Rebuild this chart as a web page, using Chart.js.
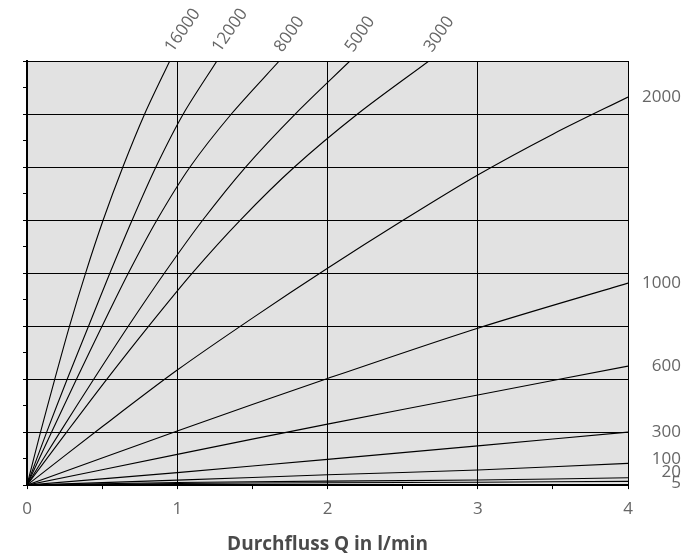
<!DOCTYPE html>
<html>
<head>
<meta charset="utf-8">
<script src="https://cdn.jsdelivr.net/npm/chart.js@4"></script>
<style>
  body { margin: 0; background: #fff; }
  #wrap { width: 696px; height: 555px; position: relative; }
</style>
</head>
<body>
<div id="wrap"><canvas id="flowChart"></canvas></div>
<script>
// Kennlinien: [Q, Wert] je Viskosität
const viscosities = [16000, 12000, 8000, 5000, 3000, 2000, 1000, 600, 300, 100, 20, 5];

const curve16000 = [[0,0],[0.09,1],[0.185,2],[0.283,3],[0.39,4],[0.507,5],[0.638,6],[0.783,7],[0.95,8]];
const curve12000 = [[0,0],[0.131,1],[0.268,2],[0.41,3],[0.552,4],[0.7,5],[0.858,6],[1.04,7],[1.264,8]];
const curve8000  = [[0,0],[0.164,1],[0.33,2],[0.5,3],[0.675,4],[0.865,5],[1.085,6],[1.36,7],[1.679,8]];
const curve5000  = [[0,0],[0.22,1],[0.445,2],[0.675,3],[0.915,4],[1.17,5],[1.455,6],[1.785,7],[2.149,8]];
const curve3000  = [[0,0],[0.264,1],[0.532,2],[0.81,3],[1.1,4],[1.42,5],[1.78,6],[2.2,7],[2.675,8]];
const curve2000  = [[0,0],[0.5,1.1],[1,2.17],[1.5,3.15],[2,4.09],[2.5,4.99],[3,5.85],[3.5,6.62],[4,7.32]];
const curve1000  = [[0,0],[1,1.02],[2,2.01],[3,2.96],[4,3.81]];
const curve600   = [[0,0],[1,0.58],[2,1.15],[3,1.70],[4,2.245]];
const curve300   = [[0,0],[1,0.235],[2,0.485],[3,0.74],[4,1.0]];
const curve100   = [[0,0],[1,0.094],[2,0.195],[3,0.285],[4,0.41]];
const curve20    = [[0,0],[1,0.05],[2,0.075],[3,0.095],[4,0.14]];
const curve5     = [[0,0],[1,0.03],[2,0.045],[3,0.055],[4,0.07]];

const curves = [curve16000, curve12000, curve8000, curve5000, curve3000, curve2000,
                curve1000, curve600, curve300, curve100, curve20, curve5];

const xTicks = [0, 1, 2, 3, 4];
const xTitle = 'Durchfluss Q in l/min';

// kleine Verschiebung der rechten Beschriftungen, damit sie sich nicht überlappen
const rightLabelShift = { 100: -4, 20: -6, 5: 2 };

const FONT = '"Open Sans", Lato, sans-serif';

const plotBg = {
    id: 'plotBg',
    beforeDraw(chart) {
        const a = chart.chartArea, c = chart.ctx;
        c.save();
        c.fillStyle = '#e2e2e2';
        c.fillRect(a.left, a.top, a.right - a.left, a.bottom - a.top);
        c.restore();
    }
};

const curveLabels = {
    id: 'curveLabels',
    afterDatasetsDraw(chart) {
        const c = chart.ctx, xs = chart.scales.x, ys = chart.scales.y;
        c.save();
        c.fillStyle = '#666';
        c.font = '17px ' + FONT;
        chart.data.datasets.forEach((ds) => {
            const last = ds.data[ds.data.length - 1];
            const px = xs.getPixelForValue(last.x);
            const py = ys.getPixelForValue(last.y);
            const txt = String(ds.label);
            if (last.y >= ys.max) {
                c.save();
                c.translate(px + 3, py - 8);
                c.rotate(-55 * Math.PI / 180);
                c.textAlign = 'left';
                c.textBaseline = 'alphabetic';
                c.fillText(txt, 0, 0);
                c.restore();
            } else {
                c.textAlign = 'right';
                c.textBaseline = 'middle';
                c.fillText(txt, 681, py + (rightLabelShift[ds.label] || 0));
            }
        });
        c.restore();
    }
};

const datasets = curves.map((pts, i) => ({
    label: viscosities[i],
    data: pts.map(p => ({ x: p[0], y: p[1] })),
    borderColor: '#000',
    borderWidth: 1.1,
    pointRadius: 0,
    fill: false,
    tension: 0.3
}));

new Chart(document.getElementById('flowChart'), {
    type: 'line',
    data: { datasets: datasets },
    options: {
        responsive: true,
        maintainAspectRatio: false,
        animation: false,
        layout: { padding: { left: 23, right: 68, top: 61, bottom: 0 } },
        plugins: {
            legend: { display: false },
            tooltip: { enabled: false }
        },
        scales: {
            x: {
                type: 'linear',
                min: 0,
                max: 4,
                border: { color: '#000', width: 2 },
                grid: {
                    color: ctx => Number.isInteger(ctx.tick.value) ? '#000' : 'rgba(0,0,0,0)',
                    tickColor: '#000',
                    tickLength: 4,
                    lineWidth: 1
                },
                ticks: {
                    stepSize: 0.5,
                    autoSkip: false,
                    maxRotation: 0,
                    padding: 10,
                    color: '#666',
                    font: { family: FONT, size: 17 },
                    callback: v => xTicks.includes(v) ? String(v) : ''
                },
                title: {
                    display: true,
                    text: xTitle,
                    color: '#4a4a4a',
                    font: { family: FONT, size: 19, weight: 'bold', lineHeight: 1 },
                    padding: { top: 6, bottom: 0.5 }
                }
            },
            y: {
                type: 'linear',
                min: 0,
                max: 8,
                border: { color: '#000', width: 2 },
                grid: {
                    color: ctx => Number.isInteger(ctx.tick.value) ? '#000' : 'rgba(0,0,0,0)',
                    tickColor: '#000',
                    tickLength: 4,
                    lineWidth: 1
                },
                ticks: { stepSize: 0.5, display: false }
            }
        }
    },
    plugins: [plotBg, curveLabels]
});
</script>
</body>
</html>
